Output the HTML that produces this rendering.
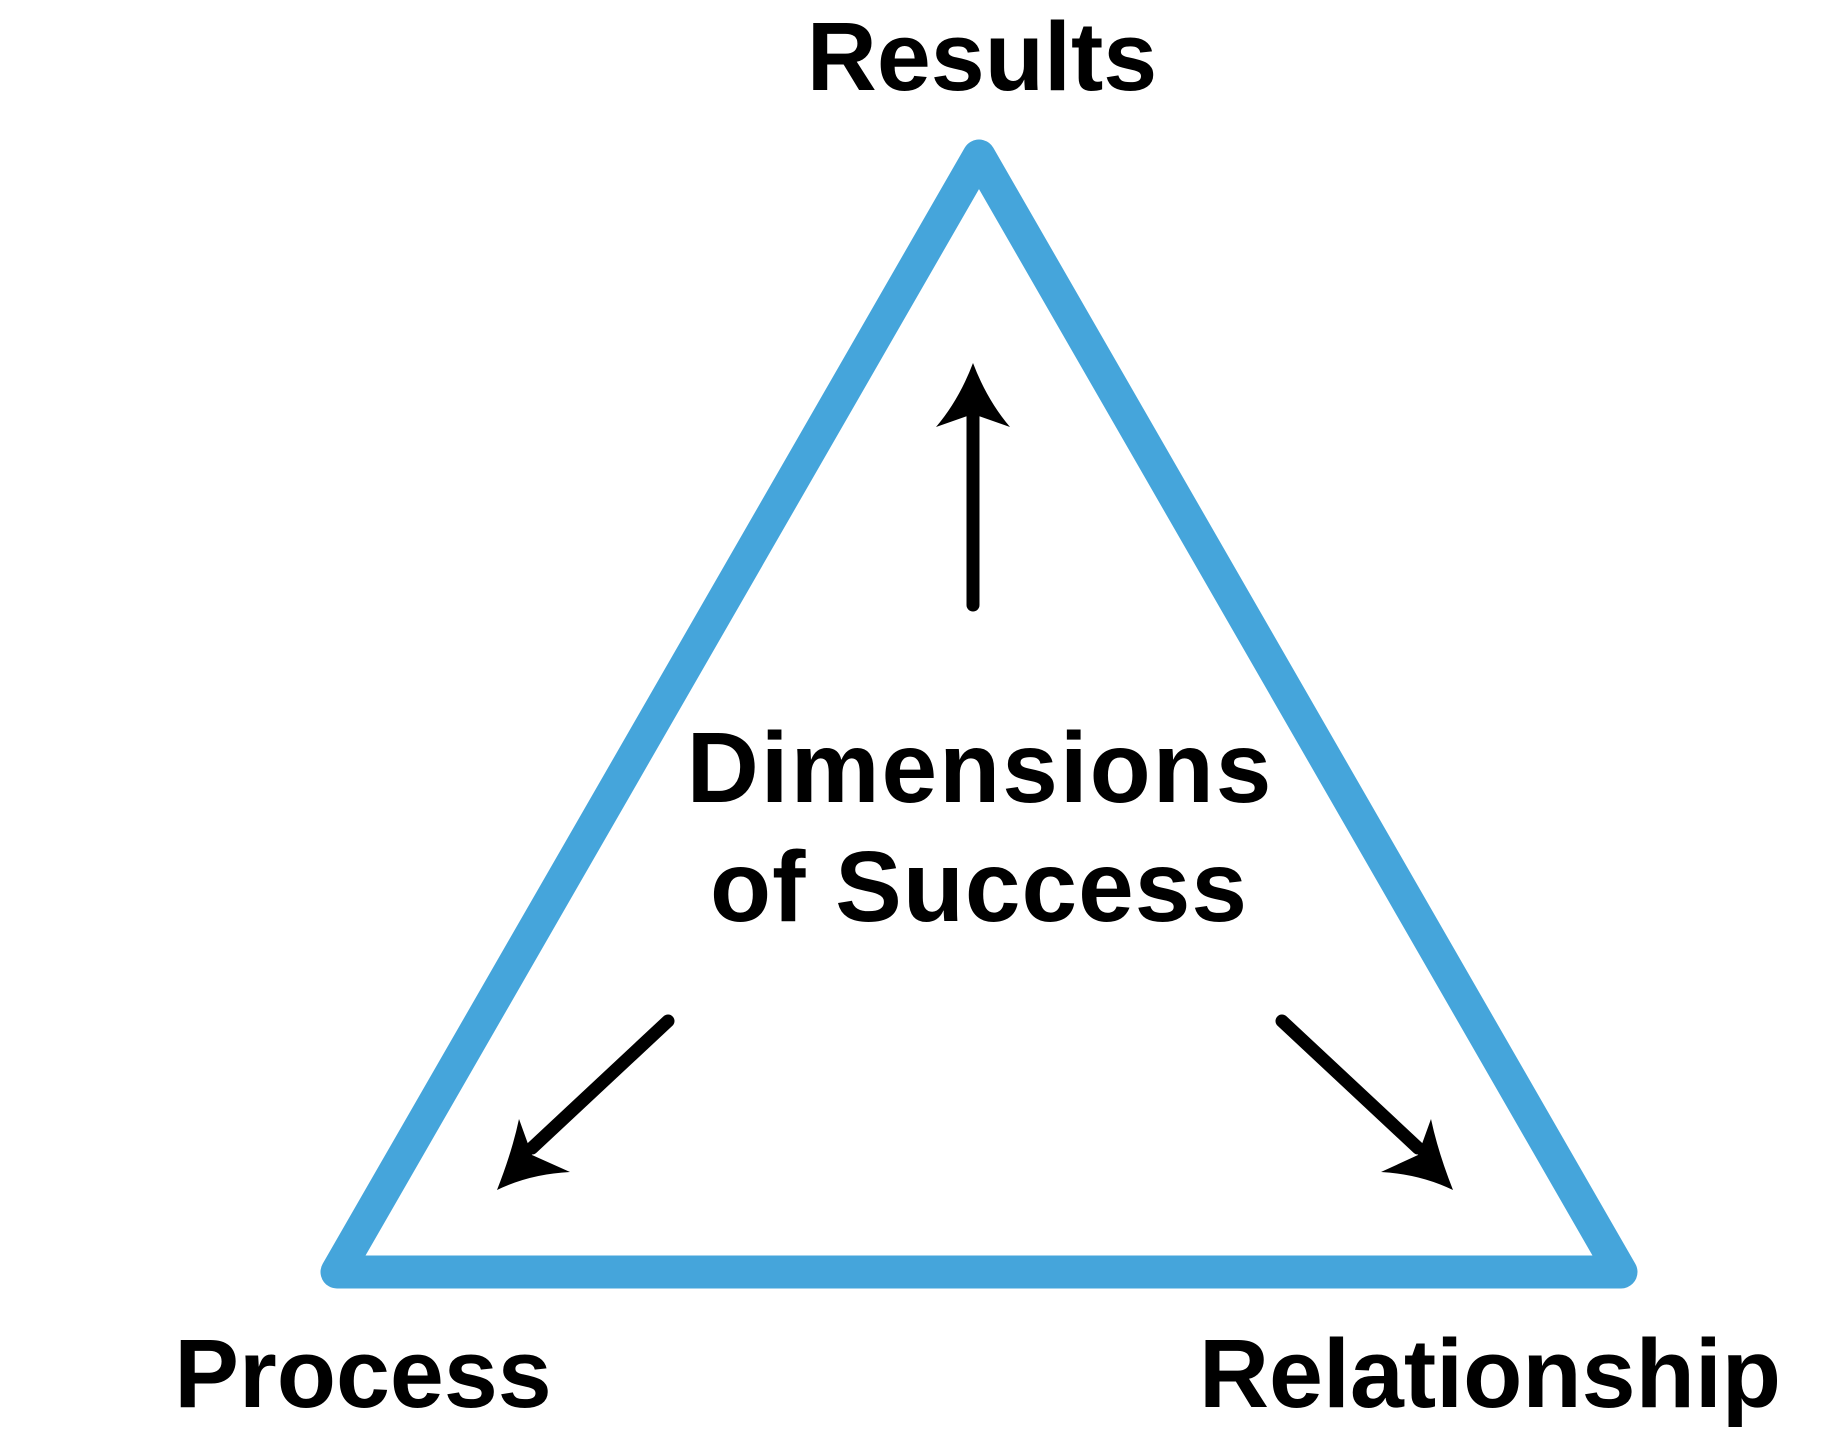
<!DOCTYPE html>
<html><head><meta charset="utf-8"><style>
html,body{margin:0;padding:0;background:#fff;}
svg{display:block;}
text{font-family:"Liberation Sans",sans-serif;font-weight:bold;fill:#000;}
</style></head><body>
<svg width="1847" height="1445" viewBox="0 0 1847 1445" xmlns="http://www.w3.org/2000/svg">
<rect width="1847" height="1445" fill="#fff"/>
<polygon points="979,156 337,1272 1621,1272" fill="none" stroke="#45a5db" stroke-width="33" stroke-linejoin="round"/>
<text x="982" y="90" font-size="97" text-anchor="middle">Results</text>
<text x="363" y="1407" font-size="97" text-anchor="middle">Process</text>
<text x="1490" y="1407" font-size="97" text-anchor="middle">Relationship</text>
<text x="980" y="802" font-size="100" text-anchor="middle" letter-spacing="2">Dimensions</text>
<text x="979" y="921" font-size="100" text-anchor="middle" letter-spacing="1">of Success</text>
<g stroke="#000" stroke-width="13" stroke-linecap="round" fill="none">
<line x1="973" y1="605" x2="973" y2="415"/>
<line x1="668" y1="1021" x2="532" y2="1148"/>
<line x1="1282" y1="1021" x2="1418" y2="1148"/>
</g>
<g fill="#000">
<path d="M973,363 Q987,400 1010,427 L973,414 L936,427 Q959,400 973,363Z"/>
<path d="M497,1190 Q512,1152 519,1119 L532,1155 L570,1172 Q530,1174 497,1190Z"/>
<path d="M1453,1190 Q1438,1152 1431,1119 L1418,1155 L1381,1172 Q1420,1174 1453,1190Z"/>
</g>
</svg>
</body></html>
